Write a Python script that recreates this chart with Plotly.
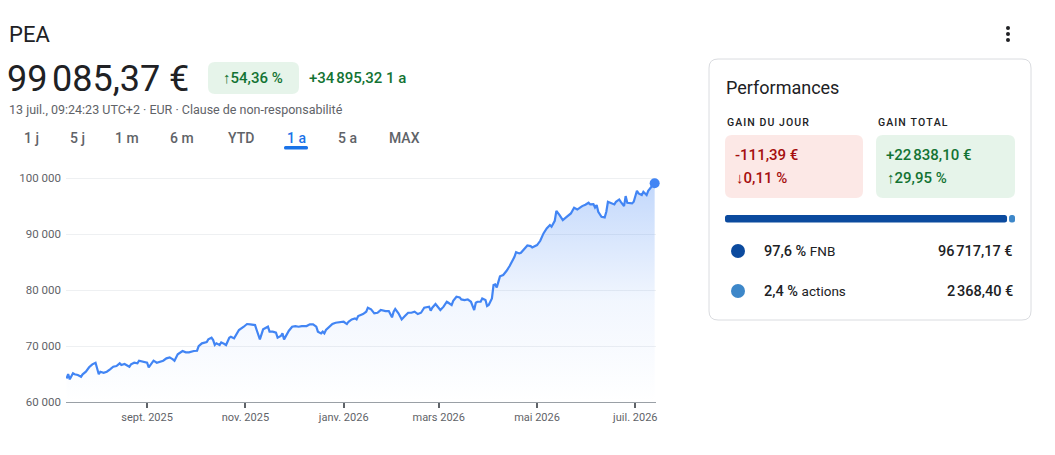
import plotly.graph_objects as go
import pandas as pd

# Données du portefeuille PEA (1 an)
debut = "2025-07-13"
jours = [
    0, 1, 2, 4, 5, 7, 9, 10, 12, 14, 16, 18, 20, 21, 23, 25, 27, 29, 31, 33,
    34, 36, 39, 40, 42, 44, 45, 48, 50, 51, 53, 54, 56, 58, 60, 62, 64, 66, 67, 69,
    70, 72, 74, 76, 79, 81, 82, 84, 87, 88, 90, 91, 92, 93, 95, 96, 98, 99, 101, 102,
    104, 105, 107, 110, 112, 114, 116, 117, 118, 120, 122, 124, 125, 126, 128, 130, 131, 133, 134, 135,
    137, 138, 140, 142, 144, 146, 149, 151, 153, 155, 156, 158, 159, 160, 161, 163, 165, 167, 170, 172,
    174, 175, 177, 179, 180, 181, 184, 186, 187, 189, 191, 193, 195, 197, 198, 200, 202, 203, 204, 206,
    208, 210, 212, 214, 216, 218, 220, 222, 223, 225, 226, 227, 229, 231, 232, 234, 236, 237, 239, 240,
    242, 244, 245, 247, 249, 251, 253, 254, 255, 257, 258, 260, 261, 262, 264, 265, 266, 267, 269, 271,
    272, 273, 275, 277, 278, 279, 281, 282, 284, 286, 288, 289, 292, 294, 296, 298, 300, 301, 303, 304,
    306, 308, 310, 312, 313, 315, 317, 318, 320, 322, 324, 325, 327, 328, 329, 330, 332, 334, 335, 336,
    338, 340, 341, 343, 344, 346, 347, 348, 351, 352, 354, 355, 357, 358, 360, 361, 363, 365,
]
valeurs = [
    64190, 65000, 64050, 65120, 64950, 64820, 64520, 64950, 65410, 66200,
    66730, 67020, 64950, 65410, 65230, 65410, 65840, 66300, 66430, 66910,
    66610, 66790, 66300, 66730, 67020, 66910, 67380, 67080, 67020, 66200,
    67020, 67380, 67020, 67200, 67380, 67800, 67980, 67620, 67380, 68520,
    68700, 69110, 68870, 68870, 69110, 69160, 70000, 70480, 70710, 71190,
    71480, 71070, 70180, 70480, 70180, 70660, 70360, 70180, 71480, 71670,
    71370, 71960, 72860, 73450, 73930, 73870, 73870, 73750, 72860, 71190,
    72980, 73330, 73450, 72560, 72560, 72380, 71480, 71790, 72260, 71190,
    72380, 72740, 73450, 73570, 73450, 73570, 73570, 73870, 73870, 73450,
    72560, 72260, 72560, 72260, 72860, 73450, 73930, 74160, 74220, 74340,
    73930, 74340, 74750, 74930, 74750, 75360, 75710, 76130, 76850, 76550,
    75840, 75950, 76430, 76250, 76250, 76250, 75120, 76130, 76610, 75840,
    74750, 75360, 75950, 75950, 76130, 75710, 75950, 76850, 76910, 77030,
    76310, 76850, 77500, 76910, 76430, 77030, 77910, 77730, 77320, 78090,
    78800, 78690, 78330, 78210, 78330, 77910, 76430, 77730, 77910, 77910,
    78510, 78210, 77140, 77320, 78510, 80890, 81010, 80480, 82450, 82680,
    83160, 83400, 84300, 85350, 85950, 86780, 86550, 86670, 87380, 87980,
    87860, 87620, 88040, 88800, 90120, 91010, 91610, 91310, 92380, 94160,
    93390, 92500, 92980, 93510, 93690, 94700, 94400, 94580, 95000, 95240,
    95600, 95300, 95360, 94760, 95180, 93990, 93100, 92980, 93990, 95770,
    95600, 95300, 95770, 96190, 95770, 95000, 96790, 95600, 95480, 95770,
    97740, 97270, 96970, 97560, 96970, 97740, 98450, 99085.37,
]

tick_dates = ["2025-09-01", "2025-11-01", "2026-01-01", "2026-03-01", "2026-05-01", "2026-07-01"]
tick_labels = ["sept. 2025", "nov. 2025", "janv. 2026", "mars 2026", "mai 2026", "juil. 2026"]
y_ticks = [60000, 70000, 80000, 90000, 100000]

onglets = ["1 j", "5 j", "1 m", "6 m", "YTD", "1 a", "5 a", "MAX"]
onglets_x = [31, 77, 127, 182, 241, 296, 347, 404]

repartition_noms = ["FNB", "actions"]
repartition_pct = [97.6, 2.4]
repartition_val = ["96\u202f717,17 €", "2\u202f368,40 €"]
repartition_couleurs = ["#0b4a9e", "#3d87c9"]

dates = pd.to_datetime(debut) + pd.to_timedelta(jours, unit="D")

# page geometry (the figure sits 8px inside the page)
OFF = 8
W, H = 1055 - 2 * OFF, 455 - 2 * OFF
L, R, T, B = 66, 656, 177, 402   # plot box in page pixels


def fx(px):
    return (px - L) / (R - L)


def fy(py):
    return (B - py) / (B - T)


def rrect(x0, y0, x1, y1, r):
    # rounded rectangle as a path in paper coordinates
    pts = [
        f"M {fx(x0 + r)},{fy(y0)}",
        f"L {fx(x1 - r)},{fy(y0)}",
        f"Q {fx(x1)},{fy(y0)} {fx(x1)},{fy(y0 + r)}",
        f"L {fx(x1)},{fy(y1 - r)}",
        f"Q {fx(x1)},{fy(y1)} {fx(x1 - r)},{fy(y1)}",
        f"L {fx(x0 + r)},{fy(y1)}",
        f"Q {fx(x0)},{fy(y1)} {fx(x0)},{fy(y1 - r)}",
        f"L {fx(x0)},{fy(y0 + r)}",
        f"Q {fx(x0)},{fy(y0)} {fx(x0 + r)},{fy(y0)}",
        "Z",
    ]
    return " ".join(pts)


fig = go.Figure()

fig.add_trace(go.Scatter(
    x=dates, y=valeurs,
    mode="lines",
    line=dict(color="#4285f4", width=2.2),
    fill="tozeroy",
    fillgradient=dict(
        type="vertical",
        colorscale=[[0, "rgba(66,133,244,0)"], [0.45, "rgba(66,133,244,0.07)"], [1, "rgba(66,133,244,0.33)"]],
        start=60000, stop=100000,
    ),
    hoverinfo="skip",
))

fig.add_trace(go.Scatter(
    x=[dates[-1]], y=[valeurs[-1]],
    mode="markers",
    marker=dict(color="#4285f4", size=10),
    cliponaxis=False,
    hoverinfo="skip",
))

shapes = []
ann = []


def txt(x, y, s, size=14, color="#202124", anchor="left", weight=400):
    ann.append(dict(
        x=fx(x), y=fy(y), xref="paper", yref="paper", text=s, showarrow=False,
        xanchor=anchor, yanchor="middle",
        font=dict(size=size, color=color, family="Roboto", weight=weight),
    ))


def spaced(s):
    return "\u200a".join(s)


# top band
shapes.append(dict(type="rect", xref="paper", yref="paper", x0=fx(0), x1=fx(1055), y0=fy(-10), y1=fy(7),
                   fillcolor="#f6f7f8", line=dict(width=0), layer="below"))

# header
txt(7, 35, "PEA", size=22)
txt(5, 79, "99\u202f085,37 €", size=36)
shapes.append(dict(type="path", xref="paper", yref="paper", path=rrect(208, 62, 299, 94, 7),
                   fillcolor="#e6f4ea", line=dict(width=0)))
txt(253, 78, "↑54,36 %", size=15, color="#137333", anchor="center", weight=500)
txt(307, 78, "+34\u202f895,32 1 a", size=15, color="#137333", weight=500)
txt(7, 109, "13 juil., 09:24:23 UTC+2 · EUR · Clause de non-responsabilité", size=12.5, color="#5f6368")

for lab, xo in zip(onglets, onglets_x):
    col = "#1a73e8" if lab == "1 a" else "#5f6368"
    txt(xo, 138, lab, size=14, color=col, anchor="center", weight=500)
shapes.append(dict(type="path", xref="paper", yref="paper", path=rrect(284, 146, 308, 149.5, 1.5),
                   fillcolor="#1a73e8", line=dict(width=0)))

# three dots menu
for yy in [28, 34, 40]:
    shapes.append(dict(type="circle", xref="paper", yref="paper", x0=fx(1006), x1=fx(1010),
                       y0=fy(yy - 2), y1=fy(yy + 2), fillcolor="#202124", line=dict(width=0)))

# performance card
shapes.append(dict(type="path", xref="paper", yref="paper", path=rrect(709, 59, 1031, 320, 9),
                   fillcolor="white", line=dict(color="#dadce0", width=1)))
txt(724, 87, "Performances", size=18)
txt(725, 122, spaced("GAIN DU JOUR"), size=10.5, weight=500)
txt(876, 122, spaced("GAIN TOTAL"), size=10.5, weight=500)
shapes.append(dict(type="path", xref="paper", yref="paper", path=rrect(725, 135, 863, 198, 7),
                   fillcolor="#fce8e6", line=dict(width=0)))
shapes.append(dict(type="path", xref="paper", yref="paper", path=rrect(876, 135, 1015, 198, 7),
                   fillcolor="#e6f4ea", line=dict(width=0)))
txt(733, 155, "-111,39 €", size=15, color="#a50e0e", weight=500)
txt(734, 178, "↓0,11 %", size=15, color="#a50e0e", weight=500)
txt(884, 155, "+22\u202f838,10 €", size=15, color="#137333", weight=500)
txt(885, 178, "↑29,95 %", size=15, color="#137333", weight=500)

# allocation bar built from the percentages
bx0, bx1 = 725, 1015
cur = bx0
for i, (pct, col) in enumerate(zip(repartition_pct, repartition_couleurs)):
    seg = (bx1 - bx0) * pct / sum(repartition_pct)
    a = cur + (1 if i > 0 else 0)
    b = cur + seg - (1 if i == 0 else 0)
    shapes.append(dict(type="path", xref="paper", yref="paper", path=rrect(a, 215, b, 222.5, 2.5),
                       fillcolor=col, line=dict(width=0)))
    cur += seg

for i, (nom, pct, val, col) in enumerate(zip(repartition_noms, repartition_pct, repartition_val, repartition_couleurs)):
    yy = 251 + 40 * i
    shapes.append(dict(type="circle", xref="paper", yref="paper", x0=fx(731), x1=fx(745),
                       y0=fy(yy + 7), y1=fy(yy - 7), fillcolor=col, line=dict(width=0)))
    pct_txt = f"{pct:.1f}".replace(".", ",")
    txt(762, yy, f"{pct_txt} % <span style='font-weight:400;font-size:13.5px'>{nom}</span>", size=14.5, weight=500)
    txt(1015, yy, val, size=14.5, anchor="right", weight=500)

fig.update_layout(
    width=W, height=H,
    margin=dict(l=L - OFF, r=W + OFF - R, t=T - OFF, b=H + OFF - B),
    paper_bgcolor="white",
    plot_bgcolor="white",
    showlegend=False,
    separators=", ",
    font=dict(family="Roboto", color="#5f6368", size=11),
    shapes=shapes,
    annotations=ann,
)

fig.update_xaxes(
    type="date",
    range=["2025-07-12 16:00", "2026-07-13 20:00"],
    tickvals=tick_dates, ticktext=tick_labels,
    showgrid=False, zeroline=False,
    showline=True, linecolor="#9aa0a6", linewidth=1,
    ticks="outside", ticklen=5, tickwidth=1.5, tickcolor="#5f6368",
    tickfont=dict(size=11, color="#5f6368"),
)
fig.update_yaxes(
    range=[60000, 100200],
    tickvals=y_ticks, tickformat=",d",
    showgrid=True, gridcolor="#eef0f2", gridwidth=1,
    zeroline=False, showline=False, ticks="",
    ticklabelstandoff=4,
    tickfont=dict(size=11.5, color="#5f6368"),
)

fig.write_html("out.html")
